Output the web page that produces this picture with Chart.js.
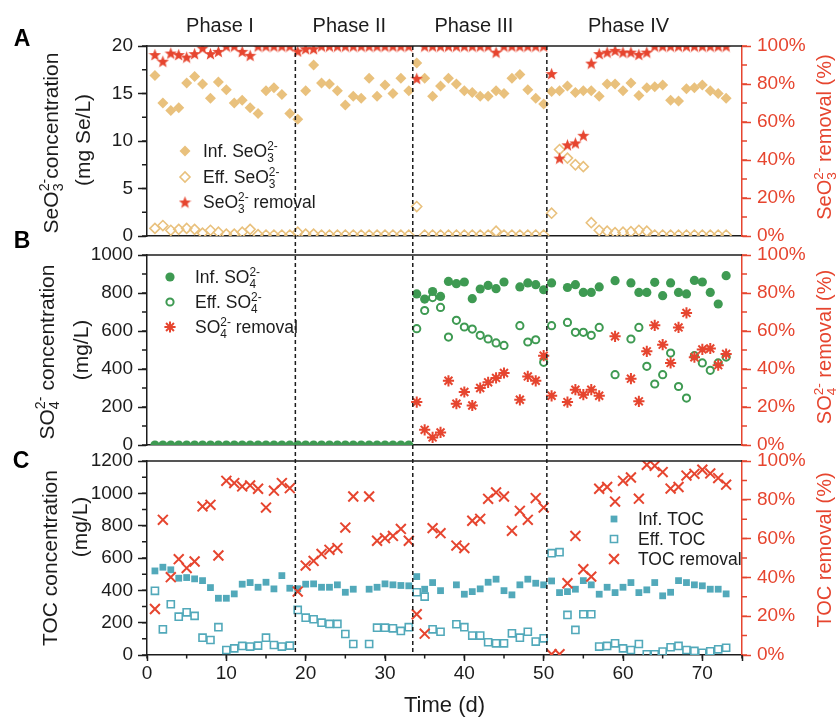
<!DOCTYPE html>
<html>
<head>
<meta charset="utf-8">
<title>SeO3, SO4 and TOC over time</title>
<script src="https://cdn.jsdelivr.net/npm/chart.js@4.4.1/dist/chart.umd.min.js"></script>
<style>
  html, body { margin: 0; padding: 0; background: #fff; }
  #wrap { position: relative; width: 838px; height: 720px; }
  #wrap canvas { position: absolute; left: 0; top: 0; }
</style>
</head>
<body>
<div id="wrap">
  <canvas id="panel-a" width="838" height="720"></canvas>
  <canvas id="panel-b" width="838" height="720"></canvas>
  <canvas id="panel-c" width="838" height="720"></canvas>
</div>
<script>
(function () {
  'use strict';

  // ---- data ----
  var days = [1, 2, 3, 4, 5, 6, 7, 8, 9, 10, 11, 12, 13, 14, 15, 16, 17, 18, 19, 20,
    21, 22, 23, 24, 25, 26, 27, 28, 29, 30, 31, 32, 33, 34, 35, 36, 37, 38, 39, 40,
    41, 42, 43, 44, 45, 46, 47, 48, 49, 50, 51, 52, 53, 54, 55, 56, 57, 58, 59, 60,
    61, 62, 63, 64, 65, 66, 67, 68, 69, 70, 71, 72, 73];

  var seInf = [16.9, 14.0, 13.2, 13.5, 16.1, 16.8, 16.0, 14.5, 16.2, 15.4,
    14.0, 14.3, 13.5, 12.9, 15.3, 15.6, 14.9, 12.9, 12.3, 15.3,
    18.0, 16.1, 16.0, 15.3, 13.8, 14.7, 14.5, 16.6, 14.7, 15.9,
    15.0, 16.6, 15.3, 18.2, 16.6, 14.7, 15.8, 16.6, 16.0, 15.3,
    15.1, 14.7, 14.7, 15.3, 15.0, 16.6, 17.0, 15.4, 14.5, 13.9,
    15.2, 15.3, 15.8, 15.1, 15.3, 15.3, 14.7, 16.0, 16.0, 15.3,
    16.1, 14.8, 15.6, 15.7, 15.9, 14.3, 14.2, 15.5, 15.6, 15.9,
    15.3, 15.0, 14.5];
  var seEff = [0.8, 1.1, 0.6, 0.7, 0.8, 0.7, 0.3, 0.6, 0.4, 0.2,
    0.2, 0.4, 0.7, 0.15, 0.1, 0.1, 0.1, 0.1, 0.4, 0.2,
    0.2, 0.1, 0.1, 0.1, 0.1, 0.1, 0.1, 0.1, 0.1, 0.1,
    0.1, 0.1, 0.1, 3.1, 0.1, 0.1, 0.1, 0.1, 0.1, 0.1,
    0.1, 0.1, 0.1, 0.5, 0.1, 0.1, 0.1, 0.1, 0.1, 0.1,
    2.4, 9.1, 8.2, 7.5, 7.3, 1.4, 0.6, 0.5, 0.35, 0.4,
    0.45, 0.6, 0.5, 0.1, 0.1, 0.1, 0.1, 0.1, 0.1, 0.1,
    0.1, 0.1, 0.1];
  var seRem = [95.5, 92.0, 96.3, 95.5, 94.2, 96.0, 99.0, 96.0, 97.2, 100,
    100, 97.2, 95.1, 100, 100, 100, 100, 100, 97.4, 98.6,
    98.6, 100, 100, 100, 100, 100, 100, 100, 100, 100,
    100, 100, 100, 83.0, 100, 100, 100, 100, 100, 100,
    100, 100, 100, 96.8, 100, 100, 100, 100, 100, 100,
    85.5, 41.0, 48.0, 49.0, 53.0, 91.0, 96.0, 96.8, 97.7, 96.8,
    96.8, 95.6, 96.8, 100, 100, 100, 100, 100, 100, 100,
    100, 100, 100];

  var soInf = [0, 0, 0, 0, 0, 0, 0, 0, 0, 0, 0, 0, 0, 0, 0, 0, 0, 0, 0, 0,
    0, 0, 0, 0, 0, 0, 0, 0, 0, 0, 0, 0, 0,
    795, 768, 808, 782, 861, 849, 858, 770, 821, 840,
    823, 858, null, 832, 853, 844, 817, 853, null, 829,
    844, 803, 803, 832, null, 865, null, 853, 803, 803,
    856, 786, 853, 803, 795, 866, 858, 803, 742, 891];
  var soEff = [null, null, null, null, null, null, null, null, null, null,
    null, null, null, null, null, null, null, null, null, null,
    null, null, null, null, null, null, null, null, null, null, null, null, null,
    612, 708, 776, 724, 568, 656, 621, 610, 577, 558,
    537, 524, null, 628, 542, 554, 435, 628, null, 645,
    593, 593, 577, 619, null, 370, null, 558, 619, 414,
    321, 370, 484, 308, 247, 470, 432, 393, 432, 463];
  var soRem = [null, null, null, null, null, null, null, null, null, null,
    null, null, null, null, null, null, null, null, null, null,
    null, null, null, null, null, null, null, null, null, null, null, null, null,
    22.6, 8.0, 4.0, 6.6, 33.8, 21.7, 27.9, 20.8, 30.0, 33.0,
    35.3, 37.9, null, 23.8, 36.1, 33.8, 47.0, 25.9, null, 22.6,
    29.1, 26.5, 29.1, 25.9, null, 57.2, null, 34.9, 23.0, 49.3,
    63.0, 52.8, 43.2, 61.9, 69.5, 46.2, 50.3, 50.8, 42.0, 47.9];

  var tocInf = [520, 543, 527, 475, 479, 471, 460, 417, 351, 351,
    378, 438, 448, 419, 450, 409, 491, 413, 410, 438,
    440, 419, 419, 434, 388, 407, null, 407, 419, 440,
    434, 430, 428, 485, 407, 448, 398, null, 434, 376,
    392, 409, 450, 469, 398, 372, 434, 469, 444, 434,
    458, 386, 392, 407, 460, 434, 376, 419, 386, 419,
    448, 386, 403, 448, 366, 388, 460, 448, 434, 428,
    407, 407, 378];
  var tocEff = [397, 159, 314, 237, 264, 242, 107, 93, 172, 31,
    41, 56, 52, 58, 107, 62, 52, 58, 279, 231,
    221, 200, 192, 192, 130, 68, null, 68, 169, 169,
    165, 149, 172, 388, 361, 159, 144, null, 190, 172,
    120, 120, 79, 72, 72, 134, 107, 144, 83, 103,
    630, 636, 248, 155, 252, 252, 52, 56, 72, 41,
    31, 68, 4, 4, 21, 48, 56, 31, 25, 14,
    23, 35, 45];
  var tocRem = [23.7, 69.7, 40.1, 49.4, 44.8, 48.2, 76.6, 77.4, 51.3, 89.8,
    88.6, 86.9, 87.4, 85.7, 76.0, 84.7, 88.6, 86.0, 32.7, 46.1,
    48.5, 52.1, 54.2, 55.1, 65.7, 81.7, null, 81.7, 58.9, 60.2,
    61.4, 65.0, 58.9, 21.0, 11.0, 65.4, 62.8, null, 56.4, 55.1,
    69.2, 70.2, 80.5, 83.8, 81.7, 64.0, 74.3, 69.7, 80.9, 76.0,
    0.4, 0.4, 37.0, 61.4, 44.2, 40.4, 85.7, 86.6, 79.1, 89.8,
    91.5, 80.6, 98.0, 97.5, 94.3, 85.8, 86.6, 92.5, 93.4, 95.5,
    93.6, 91.2, 87.8];

  var phaseNames = ['Phase I', 'Phase II', 'Phase III', 'Phase IV'];
  var phaseLabelAt = [9.2, 25.5, 41.2, 60.7];
  var phaseBounds = [18.7, 33.5, 50.4];

  // ---- look ----
  var FONT = '"Liberation Sans", Arial, Helvetica, sans-serif';
  var INK = '#1c1c1c';
  var RED = '#E6452F';
  var TAN = '#E9C17D';
  var GREEN = '#3E9A52';
  var TEAL = '#52A9BA';
  var CLEAR = 'rgba(255,255,255,0)';
  var W = 838, H = 720;
  var PLOT_L = 147, PLOT_R = 742;

  Chart.defaults.font.family = FONT;

  function makeStar(size, color) {
    var c = document.createElement('canvas');
    c.width = size; c.height = size;
    var g = c.getContext('2d');
    var cx = size / 2, cy = size / 2 + size * 0.06, R = size / 2, r = R * 0.42;
    g.beginPath();
    for (var i = 0; i < 10; i++) {
      var a = -Math.PI / 2 + i * Math.PI / 5;
      var rr = i % 2 ? r : R;
      g.lineTo(cx + rr * Math.cos(a), cy + rr * Math.sin(a));
    }
    g.closePath();
    g.fillStyle = color;
    g.fill();
    return c;
  }

  var styles = {
    seInf: { shape: 'rectRot', r: 5.5, fill: TAN, stroke: TAN, w: 0 },
    seEff: { shape: 'rectRot', r: 5, fill: CLEAR, stroke: TAN, w: 1.6 },
    seRem: { shape: makeStar(13, RED), r: 6, fill: RED, stroke: RED, w: 0 },
    soInf: { shape: 'circle', r: 4.6, fill: GREEN, stroke: GREEN, w: 0 },
    soEff: { shape: 'circle', r: 3.6, fill: CLEAR, stroke: GREEN, w: 2 },
    soRem: { shape: 'star', r: 5.6, fill: RED, stroke: RED, w: 2 },
    tocInf: { shape: 'rect', r: 4.8, fill: TEAL, stroke: TEAL, w: 0 },
    tocEff: { shape: 'rect', r: 5, fill: CLEAR, stroke: TEAL, w: 1.6 },
    tocRem: { shape: 'crossRot', r: 7, fill: RED, stroke: RED, w: 2 }
  };

  function toPoints(vals) {
    var out = [];
    for (var i = 0; i < days.length; i++) {
      if (vals[i] !== null && vals[i] !== undefined) out.push({ x: days[i], y: vals[i] });
    }
    return out;
  }

  function series(label, vals, axis, st) {
    return {
      label: label,
      data: toPoints(vals),
      yAxisID: axis,
      clip: 0,
      pointStyle: st.shape,
      pointRadius: st.r,
      pointHoverRadius: st.r,
      pointBackgroundColor: st.fill,
      pointBorderColor: st.stroke,
      pointBorderWidth: st.w
    };
  }

  // ---- text with sub/superscripts ----
  var SE = [{ t: 'SeO' }, { t: '3', s: 'sub' }, { t: '2-', s: 'sup', stack: true }];
  var SO = [{ t: 'SO' }, { t: '4', s: 'sub' }, { t: '2-', s: 'sup', stack: true }];

  function rich() {
    var parts = [];
    for (var i = 0; i < arguments.length; i++) {
      var a = arguments[i];
      if (typeof a === 'string') parts.push({ t: a });
      else parts = parts.concat(a);
    }
    return parts;
  }

  function drawRich(ctx, parts, x, y, o) {
    var size = o.size, small = size * 0.68;
    ctx.save();
    ctx.translate(x, y);
    if (o.rotate) ctx.rotate(-Math.PI / 2);
    ctx.fillStyle = o.color;
    ctx.textBaseline = 'alphabetic';
    ctx.textAlign = 'left';
    var items = [], cur = 0, lastStart = 0;
    parts.forEach(function (p) {
      var font = (o.bold ? 'bold ' : '') + (p.s ? small : size) + 'px ' + FONT;
      ctx.font = font;
      var w = ctx.measureText(p.t).width;
      var x0 = p.stack ? lastStart : cur;
      var dy = p.s === 'sub' ? size * 0.24 : (p.s === 'sup' ? -size * 0.42 : 0);
      items.push({ t: p.t, x: x0, dy: dy, font: font });
      cur = Math.max(cur, x0 + w);
      lastStart = x0;
    });
    var off = o.align === 'center' ? -cur / 2 : 0;
    items.forEach(function (it) {
      ctx.font = it.font;
      ctx.fillText(it.t, off + it.x, it.dy + size * 0.36);
    });
    ctx.restore();
  }

  function drawMarker(ctx, ds, x, y) {
    ctx.save();
    ctx.fillStyle = ds.pointBackgroundColor;
    ctx.strokeStyle = ds.pointBorderColor;
    ctx.lineWidth = ds.pointBorderWidth;
    Chart.helpers.drawPoint(ctx, {
      pointStyle: ds.pointStyle,
      radius: ds.pointRadius,
      borderWidth: ds.pointBorderWidth,
      rotation: 0
    }, x, y);
    ctx.restore();
  }

  function minorTicks(ctx, scale, step, len, color) {
    var n = Math.round((scale.max - scale.min) / step);
    ctx.save();
    ctx.strokeStyle = color;
    ctx.lineWidth = 1.5;
    ctx.beginPath();
    for (var k = 0; k <= n; k++) {
      var p = scale.getPixelForValue(scale.min + k * step);
      if (scale.position === 'left') { ctx.moveTo(scale.right - len, p); ctx.lineTo(scale.right, p); }
      else if (scale.position === 'right') { ctx.moveTo(scale.left, p); ctx.lineTo(scale.left + len, p); }
      else { ctx.moveTo(p, scale.top); ctx.lineTo(p, scale.top + len); }
    }
    ctx.stroke();
    ctx.restore();
  }

  // ---- scales ----
  function xAxis(showTicks, height) {
    return {
      type: 'linear', min: 0, max: 75,
      ticks: {
        display: showTicks, stepSize: 10, autoSkip: false, maxRotation: 0, padding: 1,
        color: INK, font: { family: FONT, size: 19 },
        callback: function (v) { return v % 10 === 0 ? String(v) : ''; }
      },
      grid: { display: true, drawOnChartArea: false, drawTicks: showTicks, tickLength: 6, tickWidth: 1.5, tickColor: INK, color: INK },
      border: { display: true, color: INK, width: 1.5 },
      afterFit: function (s) { s.height = height; }
    };
  }

  function leftAxis(max, step) {
    return {
      type: 'linear', position: 'left', min: 0, max: max,
      ticks: {
        stepSize: step, autoSkip: false, padding: 5, color: INK, font: { family: FONT, size: 19 },
        callback: function (v) { return String(v); }
      },
      grid: { drawOnChartArea: false, tickLength: 9, tickWidth: 1.5, tickColor: INK, color: INK },
      border: { color: INK, width: 1.5 },
      afterFit: function (s) { s.width = PLOT_L; }
    };
  }

  function rightAxis() {
    return {
      type: 'linear', position: 'right', min: 0, max: 100,
      ticks: {
        stepSize: 20, autoSkip: false, padding: 6, color: RED, font: { family: FONT, size: 19 },
        callback: function (v) { return v + '%'; }
      },
      grid: { drawOnChartArea: false, tickLength: 9, tickWidth: 1.5, tickColor: RED, color: RED },
      border: { color: RED, width: 1.5 },
      afterFit: function (s) { s.width = W - PLOT_R; }
    };
  }

  // ---- per-panel decoration (frame top, minor ticks, titles, legend) ----
  function decor(spec) {
    return {
      id: 'decor',
      afterDraw: function (chart) {
        var ctx = chart.ctx, a = chart.chartArea;
        ctx.save();
        ctx.strokeStyle = INK;
        ctx.lineWidth = 1.5;
        ctx.beginPath();
        ctx.moveTo(a.left, a.top);
        ctx.lineTo(a.right, a.top);
        ctx.stroke();
        ctx.restore();

        minorTicks(ctx, chart.scales.y, spec.yMinor, 5, INK);
        minorTicks(ctx, chart.scales.y2, 10, 5, RED);
        if (spec.xMinor) minorTicks(ctx, chart.scales.x, spec.xMinor, 3.5, INK);

        spec.leftTitles.forEach(function (tt) {
          drawRich(ctx, tt.parts, tt.x, tt.y, { size: 21, color: INK, rotate: true, align: 'center' });
        });
        drawRich(ctx, spec.rightTitle.parts, spec.rightTitle.x, spec.rightTitle.y,
          { size: 20, color: RED, rotate: true, align: 'center' });

        drawRich(ctx, [{ t: spec.letter.t }], spec.letter.x, spec.letter.y,
          { size: 23, color: '#000', bold: true, align: 'center' });

        spec.legend.items.forEach(function (item, i) {
          var ds = chart.data.datasets[item.ds];
          var ly = spec.legend.y[i];
          drawMarker(ctx, ds, spec.legend.markerX, ly);
          drawRich(ctx, item.parts, spec.legend.textX, ly, { size: 17.5, color: INK });
        });

        if (spec.extra) spec.extra(chart);
      }
    };
  }

  function makePanel(id, datasets, yScale, pad, xShow, xHeight, spec) {
    return new Chart(document.getElementById(id), {
      type: 'scatter',
      data: { datasets: datasets },
      options: {
        responsive: false,
        animation: false,
        events: [],
        layout: { padding: pad },
        plugins: { legend: { display: false }, tooltip: { enabled: false } },
        scales: { x: xAxis(xShow, xHeight), y: yScale, y2: rightAxis() }
      },
      plugins: [decor(spec)]
    });
  }

  var charts = {};

  charts.A = makePanel('panel-a', [
    series('SeO3 removal', seRem, 'y2', styles.seRem),
    series('Inf. SeO3', seInf, 'y', styles.seInf),
    series('Eff. SeO3', seEff, 'y', styles.seEff)
  ], leftAxis(20, 5), { top: 46, bottom: H - 236, left: 0, right: 0 }, false, 0, {
    yMinor: 2.5,
    leftTitles: [
      { parts: rich(SE, 'concentration'), x: 50, y: 143 },
      { parts: rich('(mg Se/L)'), x: 82, y: 140 }
    ],
    rightTitle: { parts: rich(SE, ' removal (%)'), x: 824, y: 137 },
    letter: { t: 'A', x: 22, y: 38 },
    legend: {
      markerX: 185, textX: 203, y: [151, 177, 202],
      items: [
        { ds: 1, parts: rich('Inf. ', SE) },
        { ds: 2, parts: rich('Eff. ', SE) },
        { ds: 0, parts: rich(SE, ' removal') }
      ]
    },
    extra: function (chart) {
      var ctx = chart.ctx, sx = chart.scales.x;
      ctx.save();
      ctx.fillStyle = INK;
      ctx.font = '20px ' + FONT;
      ctx.textAlign = 'center';
      ctx.textBaseline = 'middle';
      phaseNames.forEach(function (name, i) {
        ctx.fillText(name, sx.getPixelForValue(phaseLabelAt[i]), 26);
      });
      ctx.restore();
    }
  });

  charts.B = makePanel('panel-b', [
    series('SO4 removal', soRem, 'y2', styles.soRem),
    series('Inf. SO4', soInf, 'y', styles.soInf),
    series('Eff. SO4', soEff, 'y', styles.soEff)
  ], leftAxis(1000, 200), { top: 255, bottom: H - 445, left: 0, right: 0 }, false, 0, {
    yMinor: 100,
    leftTitles: [
      { parts: rich(SO, ' concentration'), x: 46, y: 352 },
      { parts: rich('(mg/L)'), x: 80, y: 350 }
    ],
    rightTitle: { parts: rich(SO, ' removal (%)'), x: 824, y: 347 },
    letter: { t: 'B', x: 22, y: 240 },
    legend: {
      markerX: 170, textX: 195, y: [277, 302, 327],
      items: [
        { ds: 1, parts: rich('Inf. ', SO) },
        { ds: 2, parts: rich('Eff. ', SO) },
        { ds: 0, parts: rich(SO, ' removal') }
      ]
    }
  });

  charts.C = makePanel('panel-c', [
    series('TOC removal', tocRem, 'y2', styles.tocRem),
    series('Inf. TOC', tocInf, 'y', styles.tocInf),
    series('Eff. TOC', tocEff, 'y', styles.tocEff)
  ], leftAxis(1200, 200), { top: 461, bottom: H - 655 - 40, left: 0, right: 0 }, true, 40, {
    yMinor: 100,
    xMinor: 5,
    leftTitles: [
      { parts: rich('TOC concentration'), x: 49, y: 558 },
      { parts: rich('(mg/L)'), x: 79, y: 527 }
    ],
    rightTitle: { parts: rich('TOC removal (%)'), x: 824, y: 550 },
    letter: { t: 'C', x: 21, y: 460 },
    legend: {
      markerX: 614, textX: 638, y: [519, 539, 559],
      items: [
        { ds: 1, parts: rich('Inf. TOC') },
        { ds: 2, parts: rich('Eff. TOC') },
        { ds: 0, parts: rich('TOC removal') }
      ]
    },
    extra: function (chart) {
      var ctx = chart.ctx, sx = chart.scales.x, a = chart.chartArea;
      var top = charts.A ? charts.A.chartArea.top : 46;
      ctx.save();
      ctx.strokeStyle = INK;
      ctx.lineWidth = 1.5;
      ctx.setLineDash([4, 3]);
      phaseBounds.forEach(function (b) {
        var px = sx.getPixelForValue(b);
        ctx.beginPath();
        ctx.moveTo(px, top);
        ctx.lineTo(px, a.bottom);
        ctx.stroke();
      });
      ctx.restore();

      ctx.save();
      ctx.fillStyle = INK;
      ctx.font = '22px ' + FONT;
      ctx.textAlign = 'center';
      ctx.textBaseline = 'middle';
      ctx.fillText('Time (d)', (a.left + a.right) / 2, 706);
      ctx.restore();
    }
  });
})();
</script>
</body>
</html>
